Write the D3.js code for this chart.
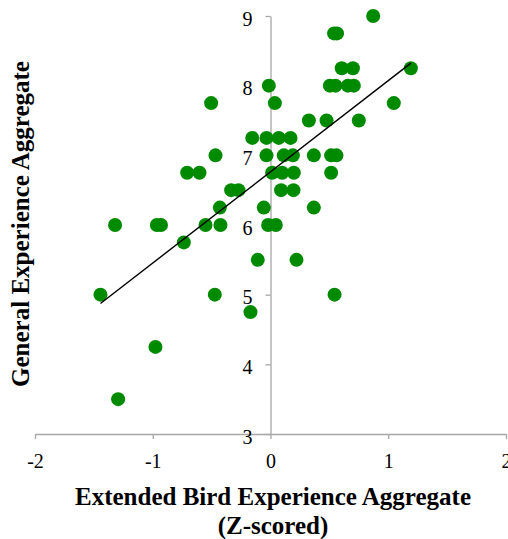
<!DOCTYPE html>
<html>
<head>
<meta charset="utf-8">
<script src="https://cdn.jsdelivr.net/npm/d3@7"></script>
<style>
  html, body { margin: 0; padding: 0; background: #fff; }
  svg { display: block; }
</style>
</head>
<body>
<svg id="chart" width="508" height="539" font-family="Liberation Serif"></svg>
<script>
// ---- data ----
const xValues = [
  0.872,
  0.54, 0.565,
  0.605, 0.70, 1.192,
  -0.014, 0.504, 0.552, 0.657, 0.708,
  -0.504, 0.037, 1.047,
  0.326, 0.476, 0.75,
  -0.155, -0.034, 0.07, 0.17,
  -0.467, -0.034, 0.113, 0.19, 0.368, 0.515, 0.56,
  -0.708, -0.603, 0.014, 0.099, 0.198, 0.515,
  -0.334, -0.272, 0.09, 0.195,
  -0.43, -0.057, 0.368,
  -1.32, -0.965, -0.93, -0.552, -0.425, -0.02, 0.045,
  -0.736,
  -0.108, 0.221,
  -1.444, -0.473, 0.544,
  -0.17,
  -0.977,
  -1.294
];
const yValues = [
  9,
  8.75, 8.75,
  8.25, 8.25, 8.25,
  8, 8, 8, 8, 8,
  7.75, 7.75, 7.75,
  7.5, 7.5, 7.5,
  7.25, 7.25, 7.25, 7.25,
  7, 7, 7, 7, 7, 7, 7,
  6.75, 6.75, 6.75, 6.75, 6.75, 6.75,
  6.5, 6.5, 6.5, 6.5,
  6.25, 6.25, 6.25,
  6, 6, 6, 6, 6, 6, 6,
  5.75,
  5.5, 5.5,
  5, 5, 5,
  4.75,
  4.25,
  3.5
];
const xTicks = [-2, -1, 0, 1, 2];
const yTicks = [3, 4, 5, 6, 7, 8, 9];
const xTitleLines = ["Extended Bird Experience Aggregate", "(Z-scored)"];
const yTitle = "General Experience Aggregate";

// ---- drawing ----
const svg = d3.select("#chart");
const x = d3.scaleLinear().domain([-2, 2]).range([35, 506]);
const y = d3.scaleLinear().domain([3, 9]).range([434, 16]);
const axisColor = "#a6a6a6";
const serif = "Liberation Serif";

// x axis (at y = 3)
const gx = svg.append("g").attr("transform", `translate(0,${y(3)})`)
  .call(d3.axisBottom(x).tickValues(xTicks).tickSize(5).tickSizeOuter(0));
gx.attr("font-family", null).attr("font-size", null);
gx.select(".domain").attr("stroke", axisColor).attr("stroke-width", 1.3);
gx.selectAll(".tick line").attr("stroke", axisColor).attr("stroke-width", 1.3);
gx.selectAll(".tick text").attr("fill", "#000").attr("font-size", 20)
  .attr("font-family", serif).attr("dy", "0").attr("y", 34)
  .text(d => d < 0 ? "-" + Math.abs(d) : String(d));

// y axis (at x = 0)
const gy = svg.append("g").attr("transform", `translate(${x(0)},0)`)
  .call(d3.axisLeft(y).tickValues(yTicks).tickSize(5).tickSizeOuter(0));
gy.attr("font-family", null).attr("font-size", null);
gy.select(".domain").attr("stroke", axisColor).attr("stroke-width", 1.3);
gy.selectAll(".tick line").attr("stroke", axisColor).attr("stroke-width", 1.3);
gy.selectAll(".tick text").attr("fill", "#000").attr("font-size", 20)
  .attr("font-family", serif).attr("x", -18).attr("dy", "0").attr("y", 9)
  .text(d => String(d));

// points
const pts = xValues.map((v, i) => ({ x: v, y: yValues[i] }));
svg.append("g").selectAll("circle").data(pts).join("circle")
  .attr("cx", d => x(d.x)).attr("cy", d => y(d.y)).attr("r", 7)
  .attr("fill", "#008a00");

// linear trendline (least squares)
const mx = d3.mean(xValues), my = d3.mean(yValues);
const slope = d3.sum(pts, d => (d.x - mx) * (d.y - my)) / d3.sum(pts, d => (d.x - mx) ** 2);
const intercept = my - slope * mx;
const [x0, x1] = d3.extent(xValues);
svg.append("line")
  .attr("x1", x(x0)).attr("y1", y(intercept + slope * x0))
  .attr("x2", x(x1)).attr("y2", y(intercept + slope * x1))
  .attr("stroke", "#000").attr("stroke-width", 1.4);

// titles
const xt = svg.append("text").attr("text-anchor", "middle")
  .attr("font-size", 25).attr("font-weight", "bold").attr("fill", "#000")
  .attr("font-family", serif);
xTitleLines.forEach((t, i) => {
  xt.append("tspan").attr("x", 273).attr("y", 505 + i * 29).text(t);
});
svg.append("text").attr("text-anchor", "middle")
  .attr("font-size", 25).attr("font-weight", "bold").attr("fill", "#000")
  .attr("font-family", serif)
  .attr("transform", "translate(29,224) rotate(-90)")
  .text(yTitle);
</script>
</body>
</html>
